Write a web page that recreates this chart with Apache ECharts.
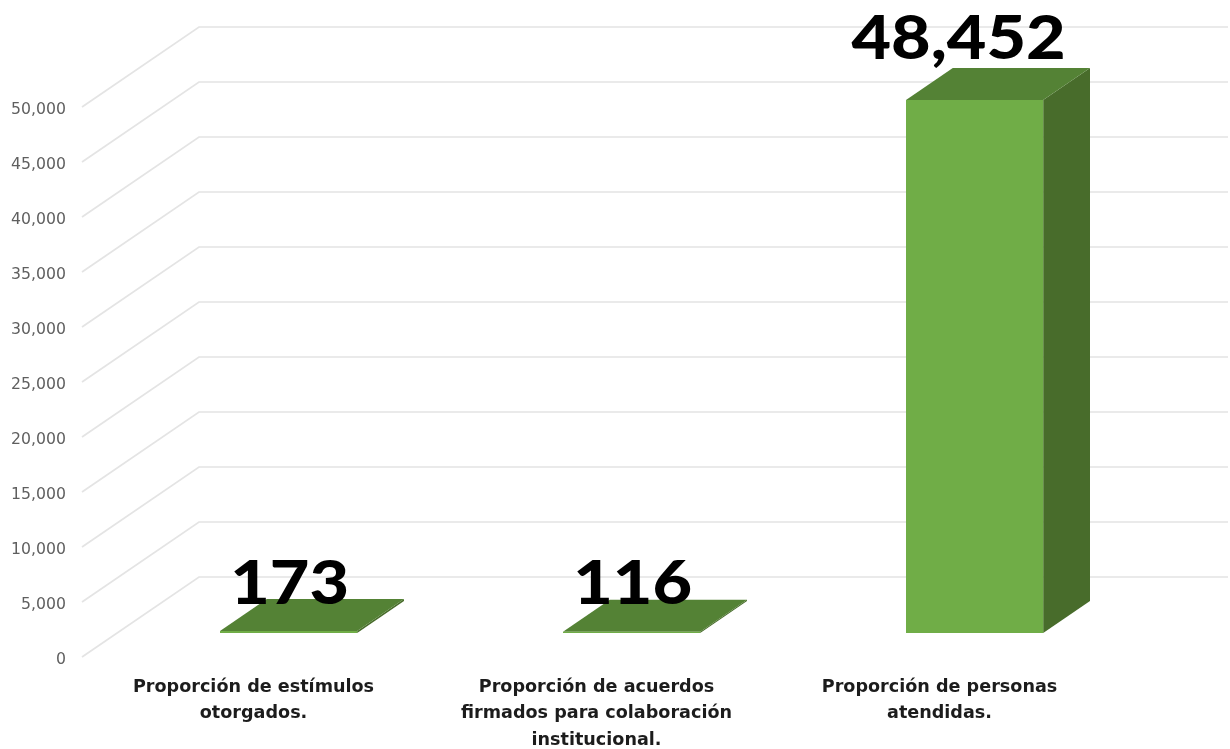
<!DOCTYPE html>
<html>
<head>
<meta charset="utf-8">
<style>html,body{margin:0;padding:0;background:#fff}#c{width:1230px;height:749px}</style>
<script src="https://cdn.jsdelivr.net/npm/echarts@6/dist/echarts.min.js"></script>
</head>
<body>
<div id="c"></div>
<script>
const categories = [
  "Proporción de estímulos\notorgados.",
  "Proporción de acuerdos\nfirmados para colaboración\ninstitucional.",
  "Proporción de personas\natendidas."
];
const values = [173, 116, 48452];
const valueLabels = ["173", "116", "48,452"];
const yTicks = [0, 5000, 10000, 15000, 20000, 25000, 30000, 35000, 40000, 45000, 50000];

const DEPTH_X = 117, DEPTH_Y = -80;
const BAR_NEAR = 0.3, BAR_FAR = 0.7, BAR_BAND = 0.4;
const LABEL_DX = [1, 1, -16], LABEL_DY = [-47, -47, -61];

const chart = echarts.init(document.getElementById('c'), null, {renderer: 'canvas'});
chart.setOption({
  animation: false,
  backgroundColor: '#ffffff',
  grid: {left: 82, right: 119, top: 107, bottom: 92, outerBoundsMode: 'none'},
  xAxis: {
    type: 'category', data: categories,
    axisLine: {show: false}, axisTick: {show: false}, splitLine: {show: false},
    axisLabel: {interval: 0, margin: 17, color: '#1c1c1c', fontFamily: 'DejaVu Sans', fontWeight: 'bold', fontSize: 17.6, lineHeight: 26.5}
  },
  yAxis: {
    type: 'value', min: 0, max: 50000, interval: 5000,
    axisLine: {show: false}, axisTick: {show: false}, splitLine: {show: false},
    axisLabel: {margin: 16, color: '#5f5f5f', fontFamily: 'DejaVu Sans', fontSize: 15.7, verticalAlign: 'top', lineHeight: 5,
      formatter: v => v.toLocaleString('en-US')}
  },
  series: [
    {
      type: 'custom', silent: true, z: 1,
      data: yTicks.map(v => [0, v]),
      encode: {x: 0, y: 1},
      renderItem(params, api) {
        const cs = params.coordSys;
        const y = api.coord([0, api.value(1)])[1];
        return {
          type: 'polyline',
          shape: {points: [[cs.x, y], [cs.x + DEPTH_X, y + DEPTH_Y], [cs.x + cs.width + DEPTH_X, y + DEPTH_Y]]},
          style: {fill: 'none', stroke: '#e4e4e4', lineWidth: 1.7}
        };
      }
    },
    {
      type: 'custom', silent: true, z: 2,
      data: values.map((v, i) => [i, v]),
      encode: {x: 0, y: 1},
      renderItem(params, api) {
        const i = api.value(0);
        const top = api.coord([i, api.value(1)]);
        const base = api.coord([i, 0]);
        const w = api.size([1, 0])[0] * BAR_BAND;
        const x0 = top[0] - w / 2 + DEPTH_X * BAR_NEAR, x1 = x0 + w;
        const dy0 = DEPTH_Y * BAR_NEAR;
        const ddx = DEPTH_X * (BAR_FAR - BAR_NEAR), ddy = DEPTH_Y * (BAR_FAR - BAR_NEAR);
        const yT = top[1] + dy0, yB = base[1] + dy0;
        const poly = (pts, fill) => ({type: 'polygon', shape: {points: pts}, style: {fill}});
        return {
          type: 'group',
          children: [
            poly([[x1, yT], [x1 + ddx, yT + ddy], [x1 + ddx, yB + ddy], [x1, yB]], '#486c2b'),
            poly([[x0, yT], [x1, yT], [x1 + ddx, yT + ddy], [x0 + ddx, yT + ddy]], '#548235'),
            poly([[x0, yT], [x1, yT], [x1, yB], [x0, yB]], '#70ad47'),
            {
              type: 'text',
              x: (x0 + x1) / 2 + LABEL_DX[i], y: yT + LABEL_DY[i],
              scaleX: 1.12,
              style: {
                text: valueLabels[i],
                x: 0, y: 0,
                align: 'center', verticalAlign: 'middle',
                fill: '#000000',
                font: '900 61px Lato'
              }
            }
          ]
        };
      }
    }
  ]
});
</script>
</body>
</html>
